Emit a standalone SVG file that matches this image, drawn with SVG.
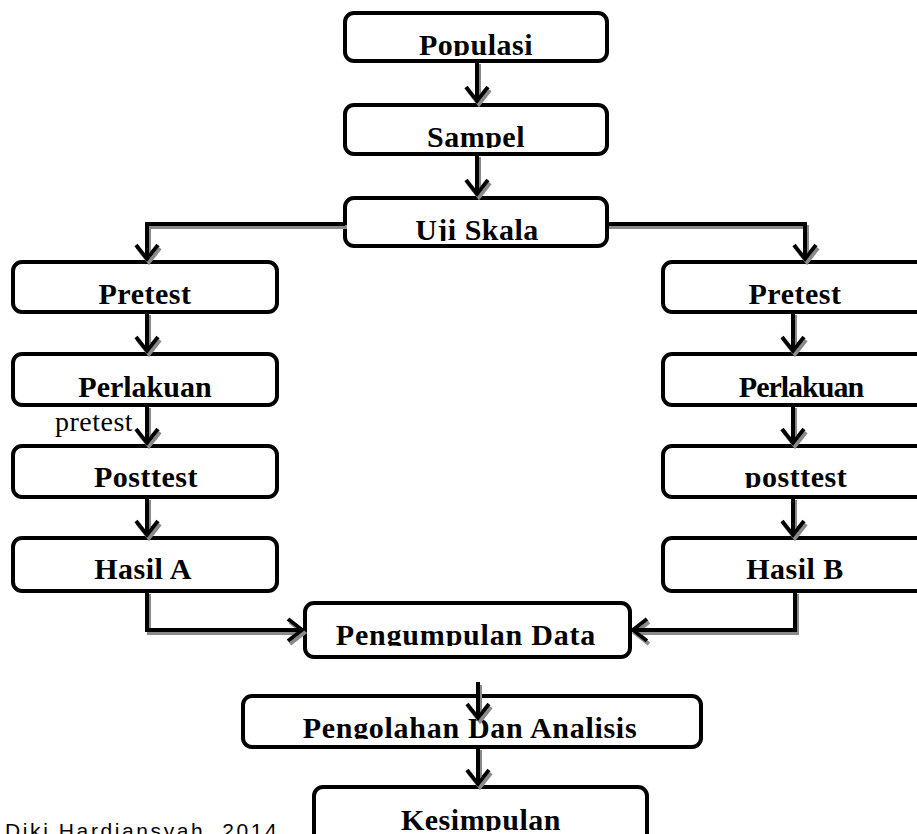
<svg xmlns="http://www.w3.org/2000/svg" width="917" height="834" viewBox="0 0 917 834">
<style>
.box{fill:#fff;stroke:#000;stroke-width:4}
.lbl{font-family:"Liberation Serif","Times New Roman",serif;font-weight:bold;font-size:30px;letter-spacing:0.5px;text-anchor:middle;fill:#000}
.note{font-family:"Liberation Serif","Times New Roman",serif;font-size:28px;letter-spacing:0.5px;fill:#000}
.cap{font-family:"Liberation Sans",Arial,sans-serif;font-size:21px;letter-spacing:2.6px;fill:#000}
.con{fill:none;stroke:#000;stroke-width:4;marker-end:url(#ah)}
</style>
<defs>
<marker id="ah" markerUnits="userSpaceOnUse" viewBox="-20 -16 24 32" refX="0" refY="0" markerWidth="24" markerHeight="32" orient="auto" overflow="visible">
<path d="M-14,-11 L0,0 L-14,11" fill="none" stroke="#000" stroke-width="4"/>
</marker>
<filter id="sh" filterUnits="userSpaceOnUse" x="0" y="0" width="917" height="834">
<feDropShadow dx="2" dy="3" stdDeviation="0.6" flood-color="#8a8a8a" flood-opacity="1"/>
</filter>
<clipPath id="lc">
<rect x="0" y="13" width="917" height="43"/>
<rect x="0" y="105" width="917" height="43"/>
<rect x="0" y="198" width="917" height="43"/>
<rect x="0" y="262" width="917" height="43"/>
<rect x="0" y="354" width="917" height="45"/>
<rect x="0" y="446" width="917" height="42"/>
<rect x="0" y="538" width="917" height="43"/>
<rect x="0" y="603" width="917" height="43"/>
<rect x="0" y="696" width="917" height="43"/>
<rect x="0" y="787" width="917" height="44"/>
</clipPath>
</defs>
<rect width="917" height="834" fill="#fff"/>

<g id="populasi"><rect class="box" x="345" y="13" width="262" height="48" rx="9"/><text class="lbl" x="476" y="55" clip-path="url(#lc)">Populasi</text></g>
<g id="sampel"><rect class="box" x="345" y="105" width="262" height="49" rx="9"/><text class="lbl" x="476" y="147" clip-path="url(#lc)">Sampel</text></g>
<g id="uji-skala"><rect class="box" x="345" y="198" width="262" height="48" rx="9"/><text class="lbl" x="477" y="240" clip-path="url(#lc)">Uji Skala</text></g>

<g id="pretest-a"><rect class="box" x="13" y="262" width="264" height="50" rx="9"/><text class="lbl" x="145" y="304" clip-path="url(#lc)">Pretest</text></g>
<g id="perlakuan-a"><rect class="box" x="13" y="354" width="264" height="51" rx="9"/><text class="lbl" x="145" y="397" clip-path="url(#lc)" style="letter-spacing:0">Perlakuan</text></g>
<g id="note-pretest"><text class="note" x="55" y="431">pretest</text></g>
<g id="posttest-a"><rect class="box" x="13" y="446" width="264" height="51" rx="9"/><text class="lbl" x="146" y="487" clip-path="url(#lc)">Posttest</text></g>
<g id="hasil-a"><rect class="box" x="13" y="538" width="264" height="53" rx="9"/><text class="lbl" x="143" y="579" clip-path="url(#lc)">Hasil A</text></g>

<g id="pretest-b"><rect class="box" x="663" y="262" width="270" height="50" rx="9"/><text class="lbl" x="795" y="304" clip-path="url(#lc)">Pretest</text></g>
<g id="perlakuan-b"><rect class="box" x="663" y="354" width="270" height="51" rx="9"/><text class="lbl" x="801" y="397" clip-path="url(#lc)" style="letter-spacing:-1px">Perlakuan</text></g>
<g id="posttest-b"><rect class="box" x="663" y="446" width="270" height="51" rx="9"/><text class="lbl" x="796" y="487" clip-path="url(#lc)">posttest</text></g>
<g id="hasil-b"><rect class="box" x="663" y="538" width="270" height="53" rx="9"/><text class="lbl" x="795" y="579" clip-path="url(#lc)">Hasil B</text></g>

<g id="pengumpulan"><rect class="box" x="305" y="603" width="325" height="54" rx="9"/><text class="lbl" x="466" y="645" clip-path="url(#lc)" style="letter-spacing:0.8px">Pengumpulan Data</text></g>
<g id="pengolahan"><rect class="box" x="243" y="696" width="458" height="51" rx="9"/><text class="lbl" x="470" y="738" clip-path="url(#lc)" style="letter-spacing:0.7px">Pengolahan Dan Analisis</text></g>
<g id="kesimpulan"><rect class="box" x="314" y="787" width="333" height="70" rx="9"/><text class="lbl" x="481" y="830" clip-path="url(#lc)">Kesimpulan</text></g>

<g id="connectors" filter="url(#sh)">
<path class="con" d="M477,61 V101"/>
<path class="con" d="M477,154 V194"/>
<path class="con" d="M345,224 H147 V259"/>
<path class="con" d="M607,224 H805 V259"/>
<path class="con" d="M147,312 V351"/>
<path class="con" d="M147,405 V443"/>
<path class="con" d="M147,497 V535"/>
<path class="con" d="M147,591 V630 H302"/>
<path class="con" d="M793,312 V351"/>
<path class="con" d="M793,405 V443"/>
<path class="con" d="M793,497 V535"/>
<path class="con" d="M795,591 V630 H633"/>
<path class="con" d="M478,682 V718"/>
<path class="con" d="M478,747 V784"/>
</g>

<g id="caption"><text class="cap" x="5" y="838">Diki Hardiansyah, 2014</text></g>
</svg>
